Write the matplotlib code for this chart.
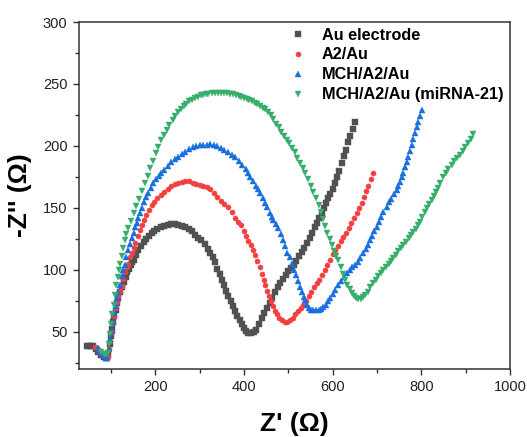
import matplotlib
matplotlib.use("Agg")
import matplotlib.pyplot as plt
from matplotlib.ticker import MultipleLocator

plt.rcParams['font.family'] = ['Liberation Sans', 'DejaVu Sans']

labels = ["Au electrode", "A2/Au", "MCH/A2/Au", "MCH/A2/Au (miRNA-21)"]
colors = ["#515151", "#F14040", "#1A6FDF", "#37AD6B"]
markers = ["s", "o", "^", "v"]

au_x = [45,50,55,60,66,72,78,84,90,94,97,100,102,105,108,111,114,117,121,125,129,133,137,141,145,148,152,157,162,168,174,180,186,192,198,205,212,220,228,236,244,252,260,268,275,282,290,297,304,311,318,324,330,335,340,345,350,355,360,365,370,375,380,385,390,395,400,405,410,416,422,428,434,440,446,452,458,464,470,476,482,488,494,500,506,512,518,524,530,536,542,548,554,560,565,570,575,580,585,590,595,600,605,610,615,620,625,630,635,640,645,650]
au_y = [38.4,38.4,38.4,38.4,36,33.5,31,29.5,28.5,32,40,47,52,58,63,68,73,77,82,86,90,94,98,101,104,106,108,112,116,119.5,122.5,125,127.5,129.5,131.5,133,134.5,135.5,136.3,137,137,136.5,135.5,134.3,133,131,128.5,126,124,120.5,117,114,110,106,101,96.5,92,88,83,79,74.5,70.5,67,63,59.5,56,53,50.5,49,48.7,49.5,51.5,56,61,65,69,73,77.5,82,86,89.5,93,96,99,101.5,104,107,111,114.5,118,122,126,130,134.5,138,142,145.6,150,154,158,161,165,170,175,180,186,192,197,203,208,214,219.6]

a2_x = [65,70,76,82,88,93,96,99,102,105,108,111,114,117,120,124,128,132,136,139,143,147,151,155,160,165,170,175,180,186,192,198,205,212,220,228,236,244,252,260,268,276,284,292,300,308,316,324,332,340,348,356,364,372,380,387,394,400,405,410,415,420,425,430,435,440,444,448,452,456,460,465,470,475,480,486,492,498,504,510,516,522,528,534,540,546,552,558,564,570,576,582,588,594,600,606,612,618,624,630,636,642,648,654,660,665,670,675,680,686,691]
a2_y = [38,36.5,34,31.5,29,30,36,43,50,57,63,69,74,79,83,87,93,98,102,105,110,114,118,122,127,132,136.5,140.5,144,148,152,155,158,160.5,163,165.5,167.5,169,170,171,171.5,171.5,170.5,169.5,168.5,167.5,166.5,165,162,159,155.5,153,151,146.5,142,139,136,131,127,123.5,120,116,112,107,102,96.5,91.8,87.5,83,79,75,70.5,67,64,61.5,59.5,58,58,59.5,61.5,64,67,69.5,72,75,79,82.5,86,89,92,96,99.8,104,108,112.5,116,119.5,123,126.5,130,134,138,142,146,150,154,159,163.5,168,173,178]

mch_x = [70,76,82,88,92,96,99,102,105,108,111,114,117,120,124,128,131,135,139,143,147,151,155,158,162,165.5,170,175,180,184,190,196,202,208,214,220,228,236,244,252,260,268,276,284,292,300,308,316,324,332,340,348,356,364,372,380,388,396,404,410,414,420,426,431,436.5,442,447,452,459,463,466.5,472,477.7,483,489,493,498,503,508,513,518,522,526.6,531,535,538,542,546,550,556,562,568,574,579,584,589,594,600,606,612.8,619,625,631.8,638,644,650,656,662,669,674,679,684,689,694,699,704,709,714,721.6,727,732,738,744,748,752,756,759,763,767,770.5,774,778,782,786,790,793,797,800.7]
mch_y = [37,34,31,28.5,29,36,44,51,58,65,71,77,82,88,95,100,104,110.6,116,121,126,130,134.5,137.6,142,145.6,150,154.5,158.5,161.8,166,170,173,175.5,178,180.5,184,187,189.5,191.4,193.5,195.5,197.5,199,200,200.5,200.5,201,201.6,201,200,198,196.5,195,193,191.4,188,185,181.5,178,175,172,168,165,161.8,158,154,150.5,145.6,142.5,140,137,133.5,129,124,119,114,110,105,100,95.5,91,86.3,82,78.5,75.6,72,69,67.5,67.5,67.5,67.5,68.5,69.7,72,74.5,77,80.5,84,87.7,91,94,97.2,100,102,104,106.5,109.5,113.3,116.5,120,124,127.5,131,134.8,139,143,146.5,151,155,157.5,161,164.5,168,171,175,178,183,187,191.4,196,201,206,210.5,215,219.6,224,229]

mir_x = [78,84,90,94,96,98,100,103,106,109,112,115,118,120.5,124,128,131.8,135,139,145,151,157,163,170,176.8,183,189,195,201,207,214,220,226,232,239,245,252,258,264,270,277,283,289,296,302,308,314,320,327,334,341,348,355,362,369,376,382,388,394,400,406,412,418,424,430,436,442,448,454,460,466,472,478,484,490,496,502,508,514,520,526,532,538,544,550,556,562,568,573,578,583,588,593,598,603,608,613,618,623,628,633,638,643,648,653,658,663,668,673,679,685,691,697,703,709,714,720,726,731,737,743,748,754,759,765,771,776,782,787,792,797,802,808,813,818,823,828,833,838,843,849,855,861,868,874,880,887,893,899,905,911,917]
mir_y = [34,32,31,33,40,48,56,64,72,80,88,94,100,105,111,118,124,129,133.5,139.5,145.5,151.5,157.5,164,170,176,182,188,194,199.5,204.8,209,213,217,221,224.5,227.7,230,232,234,236,237.3,238.5,239.8,240.8,241.5,242,242.3,242.6,243,243,243,243,242.6,242.3,242,241.5,240.5,239.5,239,238,237,236,235,233.5,232,231,229.5,227.5,225,221.5,218,215,211.5,208,205,202,198.5,195,190.5,186,182,178,173,168,163,158,152,146.5,141,135,130,125,120,115,111,108,102.5,97,92,88,84.5,81,79,77,76.2,76.5,78,79.6,82.5,86,89,92,95,97.5,99.8,102.5,105,107,109.3,112,115,117.5,120,122.5,125.5,128,130.5,133,136,139,143,147,150,153,156.4,160,163,165.8,170,175,178,181,184.6,187.5,190,192.7,196,199,202,206,210]

series_x = [au_x, a2_x, mch_x, mir_x]
series_y = [au_y, a2_y, mch_y, mir_y]

fig = plt.figure(figsize=(5.27, 4.37), dpi=100)
ax = fig.add_axes([0.149, 0.1556, 0.819, 0.794])

for xs, ys, lab, c, m in zip(series_x, series_y, labels, colors, markers):
    ax.plot(xs, ys, linestyle='none', marker=m, markersize=3.7,
            markerfacecolor=c, markeredgecolor=c, markeredgewidth=0.3,
            label=lab)

ax.set_xlim(27, 1000)
ax.set_ylim(20, 300)
ax.xaxis.set_major_locator(MultipleLocator(200))
ax.xaxis.set_minor_locator(MultipleLocator(100))
ax.yaxis.set_major_locator(MultipleLocator(50))
ax.yaxis.set_minor_locator(MultipleLocator(25))

for s in ax.spines.values():
    s.set_color('#333333')
    s.set_linewidth(1.1)
ax.tick_params(which='both', direction='out', top=False, right=False,
               colors='#333333', labelcolor='#222222')
ax.tick_params(which='major', length=4.5, width=1.0, labelsize=10.5)
ax.tick_params(which='minor', length=3, width=1.0)

ax.set_xlabel("Z' (\u03a9)", fontsize=19, fontweight='bold', labelpad=13)
ax.set_ylabel("-Z'' (\u03a9)", fontsize=19, fontweight='bold', labelpad=8)

leg = ax.legend(loc='upper left', bbox_to_anchor=(0.47, 1.012), frameon=False,
                prop={'size': 11.7, 'weight': 'bold'}, handlelength=0.8,
                handletextpad=1.1, labelspacing=0.3, markerscale=1.0,
                borderaxespad=0.2)

fig.savefig("out.png", dpi=100)
